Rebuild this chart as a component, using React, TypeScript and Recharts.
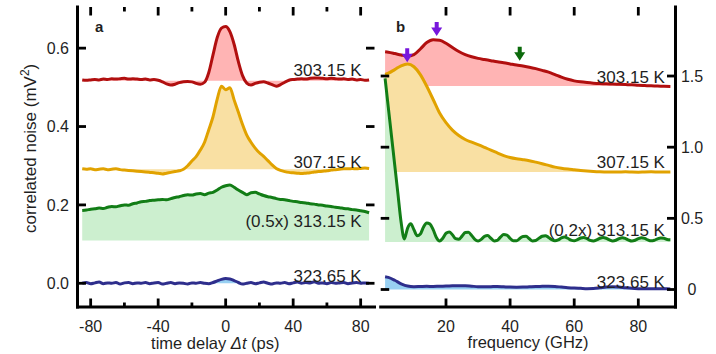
import React from 'react';
import { ComposedChart, Area, XAxis, YAxis, ReferenceDot, Label } from 'recharts';

const FONT = '"Liberation Sans", Arial, Helvetica, sans-serif';
const INK = '#1f1f1f';

// ---------------- Panel a : time domain ----------------
const timeDelay = [
  -85, -82.5, -80, -77.5, -75, -72.5, -70, -67.5, -65, -62.5,
  -60, -57.5, -55, -52.5, -50, -47.5, -45, -42.5, -40, -37.5,
  -35, -32.5, -30, -27.5, -25, -22.5, -20, -17.5, -15, -12.5,
  -10, -7.5, -5, -2.5, 0, 2.5, 5, 7.5, 10, 12.5,
  15, 17.5, 20, 22.5, 25, 27.5, 30, 32.5, 35, 37.5,
  40, 42.5, 45, 47.5, 50, 52.5, 55, 57.5, 60, 62.5,
  65, 67.5, 70, 72.5, 75, 77.5, 80, 82.5, 85,
];
const red303a = [
  0.519, 0.518, 0.519, 0.520, 0.519, 0.521, 0.520, 0.522, 0.521, 0.522,
  0.523, 0.521, 0.522, 0.521, 0.520, 0.521, 0.519, 0.520, 0.518, 0.514,
  0.509, 0.506, 0.508, 0.512, 0.514, 0.515, 0.514, 0.510, 0.508, 0.513,
  0.538, 0.583, 0.627, 0.651, 0.655, 0.642, 0.610, 0.566, 0.530, 0.511,
  0.506, 0.510, 0.513, 0.514, 0.511, 0.507, 0.503, 0.507, 0.513, 0.518,
  0.520, 0.521, 0.522, 0.521, 0.523, 0.524, 0.524, 0.523, 0.522, 0.523,
  0.522, 0.521, 0.522, 0.520, 0.521, 0.519, 0.520, 0.518, 0.519,
];
const yellow307a = [
  0.292, 0.291, 0.292, 0.290, 0.291, 0.292, 0.290, 0.291, 0.292, 0.290,
  0.289, 0.288, 0.287, 0.286, 0.285, 0.284, 0.283, 0.282, 0.281, 0.279,
  0.281, 0.283, 0.285, 0.287, 0.291, 0.300, 0.312, 0.323, 0.340, 0.360,
  0.392, 0.425, 0.470, 0.503, 0.494, 0.499, 0.468, 0.437, 0.405, 0.378,
  0.360, 0.345, 0.333, 0.324, 0.313, 0.302, 0.293, 0.288, 0.285, 0.283,
  0.282, 0.281, 0.280, 0.281, 0.282, 0.284, 0.285, 0.286, 0.287, 0.289,
  0.290, 0.291, 0.292, 0.292, 0.293, 0.292, 0.293, 0.294, 0.293,
];
const green313a = [
  0.186, 0.187, 0.189, 0.190, 0.192, 0.191, 0.194, 0.196, 0.195, 0.198,
  0.200, 0.199, 0.203, 0.205, 0.208, 0.209, 0.211, 0.212, 0.213, 0.214,
  0.213, 0.216, 0.219, 0.221, 0.224, 0.226, 0.225, 0.228, 0.229, 0.226,
  0.230, 0.232, 0.238, 0.245, 0.249, 0.251, 0.245, 0.238, 0.232, 0.226,
  0.231, 0.232, 0.228, 0.224, 0.221, 0.219, 0.216, 0.214, 0.213, 0.211,
  0.209, 0.208, 0.206, 0.205, 0.203, 0.202, 0.200, 0.199, 0.197, 0.196,
  0.194, 0.193, 0.191, 0.190, 0.188, 0.187, 0.185, 0.183, 0.180,
];
const blue323a = [
  0.000, 0.002, -0.001, 0.001, 0.003, -0.001, 0.001, 0.000, 0.002, -0.002,
  0.001, 0.002, -0.001, 0.001, 0.000, 0.002, -0.001, 0.001, 0.002, -0.002,
  0.000, 0.002, -0.001, 0.001, 0.000, -0.002, 0.001, 0.000, 0.002, 0.000,
  -0.001, 0.002, 0.006, 0.010, 0.012, 0.011, 0.007, 0.002, -0.002, 0.000,
  0.002, -0.001, 0.001, 0.003, 0.000, -0.002, 0.001, 0.000, 0.002, -0.001,
  0.001, 0.003, 0.000, 0.002, 0.001, 0.004, 0.000, 0.001, -0.001, 0.002,
  0.000, 0.001, 0.002, -0.001, 0.001, 0.002, 0.000, 0.001, 0.000,
];
const baselineA = [0.517, 0.291, 0.109, 0];
const labelA = ['303.15 K', '307.15 K', '(0.5x) 313.15 K', '323.65 K'];
const labelLevelA = [0.529, 0.295, 0.1445, 0.004];
const labelTimeA = 80.6;
const timeMajorTicks = [-80, -40, 0, 40, 80];
const timeMajorLabels = ['-80', '-40', '0', '40', '80'];
const timeMinorTicks = [-60, -20, 20, 60];
const noiseTicks = [0, 0.2, 0.4, 0.6];
const noiseTickLabels = ['0.0', '0.2', '0.4', '0.6'];
const domainTimeA = [-87.8, 88.2];
const domainNoiseA = [-0.0605, 0.705];

// ---------------- Panel b : frequency domain ----------------
const freqCoarse = [
  1, 2, 4, 6, 8, 10, 12, 14, 16, 18,
  20, 22, 24, 26, 28, 30, 32, 34, 36, 38,
  40, 42, 44, 46, 48, 50, 52, 54, 56, 58,
  60, 62, 64, 66, 68, 70, 72, 74, 76, 78,
  80, 82, 84, 86, 88, 90,
];
const red303b = [
  1.670, 1.667, 1.658, 1.648, 1.640, 1.650, 1.690, 1.735, 1.755, 1.752,
  1.730, 1.700, 1.672, 1.650, 1.635, 1.624, 1.616, 1.608, 1.600, 1.593,
  1.585, 1.577, 1.570, 1.562, 1.552, 1.540, 1.527, 1.510, 1.492, 1.477,
  1.466, 1.459, 1.454, 1.450, 1.447, 1.445, 1.444, 1.442, 1.440, 1.438,
  1.435, 1.433, 1.431, 1.430, 1.428, 1.427,
];
const yellow307b = [
  1.512, 1.520, 1.545, 1.572, 1.585, 1.565, 1.510, 1.428, 1.335, 1.240,
  1.172, 1.120, 1.082, 1.054, 1.035, 1.018, 0.999, 0.979, 0.960, 0.941,
  0.927, 0.918, 0.912, 0.905, 0.895, 0.884, 0.872, 0.860, 0.852, 0.846,
  0.841, 0.836, 0.832, 0.829, 0.827, 0.826, 0.825, 0.826, 0.827, 0.825,
  0.824, 0.826, 0.827, 0.826, 0.825, 0.826,
];
const blue323b = [
  0.090, 0.085, 0.065, 0.040, 0.024, 0.020, 0.021, 0.022, 0.021, 0.023,
  0.024, 0.026, 0.027, 0.026, 0.023, 0.020, 0.019, 0.020, 0.021, 0.019,
  0.017, 0.016, 0.017, 0.019, 0.021, 0.022, 0.023, 0.021, 0.017, 0.013,
  0.010, 0.008, 0.006, 0.007, 0.012, 0.018, 0.020, 0.017, 0.012, 0.008,
  0.006, 0.005, 0.006, 0.006, 0.005, 0.004,
];
const freqFine = [
  1, 2, 3, 4, 5, 6, 7, 8, 9, 10,
  11, 12, 13, 14, 15, 16, 17, 18, 19, 20,
  21, 22, 23, 24, 25, 26, 27, 28, 29, 30,
  31, 32, 33, 34, 35, 36, 37, 38, 39, 40,
  41, 42, 43, 44, 45, 46, 47, 48, 49, 50,
  51, 52, 53, 54, 55, 56, 57, 58, 59, 60,
  61, 62, 63, 64, 65, 66, 67, 68, 69, 70,
  71, 72, 73, 74, 75, 76, 77, 78, 79, 80,
  81, 82, 83, 84, 85, 86, 87, 88, 89, 90,
];
const green313b = [
  1.484, 1.280, 1.078, 0.876, 0.674, 0.472, 0.355, 0.430, 0.462, 0.420,
  0.378, 0.390, 0.440, 0.468, 0.460, 0.420, 0.365, 0.340, 0.360, 0.395,
  0.404, 0.385, 0.357, 0.353, 0.375, 0.400, 0.402, 0.380, 0.352, 0.341,
  0.352, 0.374, 0.379, 0.360, 0.341, 0.345, 0.368, 0.386, 0.382, 0.360,
  0.342, 0.342, 0.358, 0.373, 0.374, 0.356, 0.341, 0.344, 0.360, 0.374,
  0.378, 0.366, 0.350, 0.342, 0.348, 0.362, 0.368, 0.360, 0.347, 0.342,
  0.350, 0.362, 0.366, 0.357, 0.345, 0.341, 0.348, 0.360, 0.366, 0.360,
  0.348, 0.341, 0.346, 0.358, 0.364, 0.358, 0.347, 0.341, 0.346, 0.357,
  0.364, 0.359, 0.348, 0.342, 0.346, 0.356, 0.362, 0.360, 0.352, 0.350,
];
const baselineB = [1.43, 0.826, 0.333, 0];
const labelB = ['303.15 K', '307.15 K', '(0.2x) 313.15 K', '323.65 K'];
const labelLevelB = [1.451, 0.852, 0.379, 0.008];
const labelFreqB = 88.3;
const arrowFreq = [17.1, 7.9, 43.0];
const arrowLevel = [1.781, 1.597, 1.608];
const freqTicks = [20, 40, 60, 80];
const freqTickLabels = ['20', '40', '60', '80'];
const spectrumTicks = [0, 0.5, 1.0, 1.5];
const spectrumTickLabels = ['0', '0.5', '1.0', '1.5'];
const domainFreqB = [-0.37, 91.6];
const domainSpecB = [-0.123, 1.985];

// ---------------- helpers ----------------
const rows = (xs: number[], ys: number[]) => xs.map((x, i) => ({ x, v: ys[i] }));

const COLORS = [
  { stroke: '#b10f0f', fill: '#ffb4b4' },
  { stroke: '#e1a200', fill: '#f9e0a3' },
  { stroke: '#127d16', fill: '#ccefcf' },
  { stroke: '#2e2e8c', fill: '#98d0f2' },
];
const PURPLE = '#7716dc';
const DARKGREEN = '#0b6a0b';
const TICKCOLOR = '#000';

const MAJOR = 8.5;
const MINOR = 4.5;

type Side = 'bottom' | 'left' | 'right' | 'none';

function makeTickText(side: Side, ticks: number[], labels: string[]) {
  return function TickText(p: any) {
    const x = Number(p.x);
    const y = Number(p.y);
    const v = p.payload ? Number(p.payload.value) : NaN;
    const i = ticks.findIndex((t) => Math.abs(t - v) < 1e-9);
    const lab = i >= 0 ? labels[i] : '';
    const tp = { fontSize: 16, fontFamily: FONT, fill: INK };
    if (side === 'none' || !lab) return <g />;
    if (side === 'bottom') return <text x={x} y={y + 24.7} textAnchor="middle" {...tp}>{lab}</text>;
    if (side === 'left') return <text x={x - 8.5} y={y + 5.6} textAnchor="end" {...tp}>{lab}</text>;
    return <text x={x + 16.5} y={y + 5.6} textAnchor="middle" {...tp}>{lab}</text>;
  };
}

type Dir = 'up' | 'down' | 'left' | 'right';
const tickShape = (dir: Dir, len: number) =>
  function TickMark(p: any) {
    const cx = Number(p.cx);
    const cy = Number(p.cy);
    let dx = 0;
    let dy = 0;
    if (dir === 'up') dy = -len;
    if (dir === 'down') dy = len;
    if (dir === 'left') dx = -len;
    if (dir === 'right') dx = len;
    return <path d={`M${cx},${cy} L${cx + dx},${cy + dy}`} stroke={TICKCOLOR} strokeWidth={2.8} fill="none" />;
  };

function frameTicks(
  xTicksMajor: number[], xTicksMinor: number[], yTicks: number[],
  xDom: number[], yDom: number[], xId: string, yId: string, key: string,
) {
  const out: any[] = [];
  [[xTicksMajor, MAJOR], [xTicksMinor, MINOR]].forEach(([arr, len]: any) => {
    (arr as number[]).forEach((t, i) => {
      out.push(<ReferenceDot key={`${key}xb${len}-${i}`} xAxisId={xId} yAxisId={yId} x={t} y={yDom[0]} r={0} ifOverflow="visible" shape={tickShape('up', len)} />);
      out.push(<ReferenceDot key={`${key}xt${len}-${i}`} xAxisId={xId} yAxisId={yId} x={t} y={yDom[1]} r={0} ifOverflow="visible" shape={tickShape('down', len)} />);
    });
  });
  yTicks.forEach((v, i) => {
    out.push(<ReferenceDot key={`${key}yl${i}`} xAxisId={xId} yAxisId={yId} x={xDom[0]} y={v} r={0} ifOverflow="visible" shape={tickShape('right', MAJOR)} />);
    out.push(<ReferenceDot key={`${key}yr${i}`} xAxisId={xId} yAxisId={yId} x={xDom[1]} y={v} r={0} ifOverflow="visible" shape={tickShape('left', MAJOR)} />);
  });
  return out;
}

const frameLine = { stroke: '#000', strokeWidth: 3, strokeLinecap: 'square' as const };

const textShape = (text: string, anchor: 'start' | 'end' | 'middle', size: number, bold = false) =>
  function TextMark(p: any) {
    return (
      <text x={p.cx} y={p.cy} textAnchor={anchor} fontSize={size} fontWeight={bold ? 'bold' : 'normal'} fontFamily={FONT} fill={INK}>
        {text}
      </text>
    );
  };

const arrowShape = (color: string) =>
  function ArrowMark(p: any) {
    const cx = Number(p.cx);
    const cy = Number(p.cy);
    const d = `M${cx - 2},${cy - 14} L${cx + 2},${cy - 14} L${cx + 2},${cy - 8.5} L${cx + 5.5},${cy - 8.5} L${cx},${cy} L${cx - 5.5},${cy - 8.5} L${cx - 2},${cy - 8.5} Z`;
    return <path d={d} fill={color} />;
  };

const seriesA = [red303a, yellow307a, green313a, blue323a].map((ys) => rows(timeDelay, ys));
const seriesB = [
  rows(freqCoarse, red303b),
  rows(freqCoarse, yellow307b),
  rows(freqFine, green313b),
  rows(freqCoarse, blue323b),
];

const noText = makeTickText('none', [], []);
const axisCommon = { interval: 0 as const, tickSize: 0, tickMargin: 0, tickLine: false, allowDataOverflow: true };

function PanelA() {
  return (
    <ComposedChart width={378} height={354} margin={{ top: 7, right: 3.5, bottom: 0, left: 0 }}>
      <XAxis
        xAxisId="b" type="number" dataKey="x" domain={domainTimeA} {...axisCommon}
        ticks={timeMajorTicks} height={47} axisLine={frameLine}
        tick={makeTickText('bottom', timeMajorTicks, timeMajorLabels)}
      >
        <Label
          content={(p: any) => {
            const vb = p.viewBox || { x: 77.5, y: 307, width: 297, height: 47 };
            const cx = vb.x + vb.width / 2 - 10.7;
            const cy = vb.y + 41.5;
            return (
              <text x={cx} y={cy} textAnchor="middle" fontSize={16.5} fontFamily={FONT} fill={INK}>
                time delay <tspan fontStyle="italic">Δt</tspan> (ps)
              </text>
            );
          }}
        />
      </XAxis>
      <XAxis
        xAxisId="t" orientation="top" type="number" dataKey="x" domain={domainTimeA} {...axisCommon}
        ticks={timeMajorTicks} height={0} axisLine={frameLine} tick={noText}
      />
      <YAxis
        yAxisId="l" type="number" domain={domainNoiseA} {...axisCommon}
        ticks={noiseTicks} width={77.5} axisLine={frameLine}
        tick={makeTickText('left', noiseTicks, noiseTickLabels)}
      >
        <Label
          content={(p: any) => {
            const vb = p.viewBox || { x: 0, y: 7, width: 77.5, height: 300 };
            const cx = vb.x + 36.5;
            const cy = vb.y + 141.3;
            return (
              <text x={cx} y={cy} transform={`rotate(-90 ${cx} ${cy})`} textAnchor="middle" fontSize={17} fontFamily={FONT} fill={INK}>
                correlated noise (mV<tspan dy={-7} fontSize={12}>2</tspan><tspan dy={7}>)</tspan>
              </text>
            );
          }}
        />
      </YAxis>
      <YAxis
        yAxisId="r" orientation="right" type="number" domain={domainNoiseA} {...axisCommon}
        ticks={noiseTicks} width={0} axisLine={frameLine} tick={noText}
      />
      {seriesA.map((d, i) => (
        <Area
          key={'a' + i} xAxisId="b" yAxisId="l" data={d} dataKey="v" type="monotone"
          baseValue={baselineA[i]} stroke={COLORS[i].stroke} strokeWidth={3} strokeLinejoin="round"
          fill={COLORS[i].fill} fillOpacity={1} dot={false} activeDot={false} isAnimationActive={false}
        />
      ))}
      {frameTicks(timeMajorTicks, timeMinorTicks, noiseTicks, domainTimeA, domainNoiseA, 'b', 'l', 'A')}
      {labelA.map((t, i) => (
        <ReferenceDot key={'la' + i} xAxisId="b" yAxisId="l" x={labelTimeA} y={labelLevelA[i]} r={0} shape={textShape(t, 'end', 17)} />
      ))}
      <ReferenceDot xAxisId="b" yAxisId="l" x={-77.5} y={0.64} r={0} shape={textShape('a', 'start', 15, true)} />
    </ComposedChart>
  );
}

function PanelB() {
  return (
    <ComposedChart width={338} height={354} margin={{ top: 7, right: 0, bottom: 0, left: 2.7 }}>
      <XAxis
        xAxisId="b" type="number" dataKey="x" domain={domainFreqB} {...axisCommon}
        ticks={freqTicks} height={47} axisLine={frameLine}
        tick={makeTickText('bottom', freqTicks, freqTickLabels)}
      >
        <Label
          content={(p: any) => {
            const vb = p.viewBox || { x: 2.7, y: 307, width: 294.8, height: 47 };
            const cx = vb.x + vb.width / 2;
            const cy = vb.y + 41.3;
            return (
              <text x={cx} y={cy} textAnchor="middle" fontSize={16.5} fontFamily={FONT} fill={INK}>
                frequency (GHz)
              </text>
            );
          }}
        />
      </XAxis>
      <XAxis
        xAxisId="t" orientation="top" type="number" dataKey="x" domain={domainFreqB} {...axisCommon}
        ticks={freqTicks} height={0} axisLine={frameLine} tick={noText}
      />
      <YAxis
        yAxisId="l" type="number" domain={domainSpecB} {...axisCommon}
        ticks={spectrumTicks} width={0} axisLine={frameLine} tick={noText}
      />
      <YAxis
        yAxisId="r" orientation="right" type="number" domain={domainSpecB} {...axisCommon}
        ticks={spectrumTicks} width={40.5} axisLine={frameLine}
        tick={makeTickText('right', spectrumTicks, spectrumTickLabels)}
      />
      {seriesB.map((d, i) => (
        <Area
          key={'b' + i} xAxisId="b" yAxisId="r" data={d} dataKey="v" type="monotone"
          baseValue={baselineB[i]} stroke={COLORS[i].stroke} strokeWidth={3} strokeLinejoin="round"
          fill={COLORS[i].fill} fillOpacity={1} dot={false} activeDot={false} isAnimationActive={false}
        />
      ))}
      {frameTicks(freqTicks, [], spectrumTicks, domainFreqB, domainSpecB, 'b', 'r', 'B')}
      {labelB.map((t, i) => (
        <ReferenceDot key={'lb' + i} xAxisId="b" yAxisId="r" x={labelFreqB} y={labelLevelB[i]} r={0} shape={textShape(t, 'end', 17)} />
      ))}
      {arrowFreq.map((f, i) => (
        <ReferenceDot key={'ar' + i} xAxisId="b" yAxisId="r" x={f} y={arrowLevel[i]} r={0} shape={arrowShape(i < 2 ? PURPLE : DARKGREEN)} />
      ))}
      <ReferenceDot xAxisId="b" yAxisId="r" x={4.4} y={1.806} r={0} shape={textShape('b', 'start', 15, true)} />
    </ComposedChart>
  );
}

export default function App() {
  return (
    <div style={{ position: 'absolute', left: 0, top: 0, width: 716, height: 354, background: '#fff', overflow: 'hidden' }}>
      <div style={{ position: 'absolute', left: 0, top: 0 }}>
        <PanelA />
      </div>
      <div style={{ position: 'absolute', left: 378, top: 0 }}>
        <PanelB />
      </div>
    </div>
  );
}
